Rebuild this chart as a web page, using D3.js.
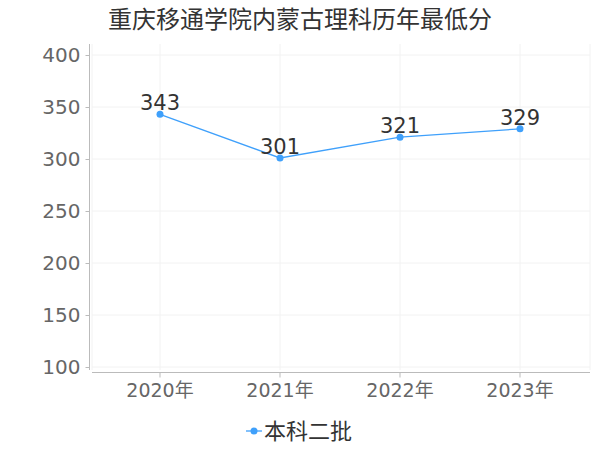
<!DOCTYPE html>
<html><head><meta charset="utf-8">
<script src="https://cdn.jsdelivr.net/npm/d3@7/dist/d3.min.js"></script>
<style>body{margin:0;background:#fff}svg{display:block}text{font-family:"DejaVu Sans","Noto Sans CJK SC",sans-serif}</style>
</head><body><svg id="c" width="600" height="450"></svg>
<script>
const title = "重庆移通学院内蒙古理科历年最低分";
const categories = ["2020年","2021年","2022年","2023年"];
const seriesName = "本科二批";
const values = [343, 301, 321, 329];
const yTicks = [100,150,200,250,300,350,400];

const svg = d3.select("#c");
const color = "#3fa0fb";
const x = d3.scaleBand().domain(categories).range([100,580]);
const y = d3.scaleLinear().domain([100,400]).range([367,55]);
const cx = d => x(d) + x.bandwidth()/2;

svg.append("text").attr("x",300).attr("y",28).attr("text-anchor","middle")
  .attr("font-size",24).attr("fill","#333").text(title);

// grid
const g = svg.append("g");
g.selectAll(".hg").data(yTicks).join("line")
  .attr("x1",92).attr("x2",590).attr("y1",d=>y(d)).attr("y2",d=>y(d))
  .attr("stroke","#f2f2f2").attr("stroke-width",1);
const vx = [92, ...categories.map(cx), 590];
g.selectAll(".vg").data(vx).join("line")
  .attr("x1",d=>d).attr("x2",d=>d).attr("y1",44).attr("y2",370)
  .attr("stroke","#f2f2f2").attr("stroke-width",1);

// y axis
const ya = svg.append("g").attr("transform","translate(89.5,0)")
  .call(d3.axisLeft(y).tickValues(yTicks).tickSize(4).tickPadding(5));
ya.select(".domain").attr("d","M0,44V370").attr("stroke","#bbb");
ya.selectAll(".tick line").attr("stroke","#bbb");
ya.selectAll("text").attr("font-size",20).attr("fill","#666").attr("font-family","DejaVu Sans");

// x axis
const xa = svg.append("g").attr("transform","translate(0,372.5)")
  .call(d3.axisBottom(x).tickSize(5).tickPadding(6));
xa.select(".domain").attr("d","M92,0H590").attr("stroke","#bbb");
xa.selectAll(".tick line").attr("stroke","#bbb");
xa.selectAll("text").attr("font-size",19).attr("fill","#666").attr("font-family","DejaVu Sans");

// line
const line = d3.line().x((d,i)=>cx(categories[i])).y(d=>y(d));
svg.append("path").datum(values).attr("d",line).attr("fill","none")
  .attr("stroke",color).attr("stroke-width",1.3);
svg.selectAll(".pt").data(values).join("circle")
  .attr("cx",(d,i)=>cx(categories[i])).attr("cy",d=>y(d)).attr("r",3.5).attr("fill",color);
svg.selectAll(".lbl").data(values).join("text")
  .attr("x",(d,i)=>cx(categories[i])).attr("y",d=>y(d)-4).attr("text-anchor","middle")
  .attr("font-size",21).attr("fill","#333").text(d=>d);

// legend
const lg = svg.append("g");
lg.append("line").attr("x1",246).attr("x2",262).attr("y1",431).attr("y2",431).attr("stroke",color).attr("stroke-width",1.3);
lg.append("circle").attr("cx",254).attr("cy",431).attr("r",3.5).attr("fill",color);
lg.append("text").attr("x",264).attr("y",439).attr("font-size",22).attr("fill","#333").text(seriesName);
</script></body></html>
